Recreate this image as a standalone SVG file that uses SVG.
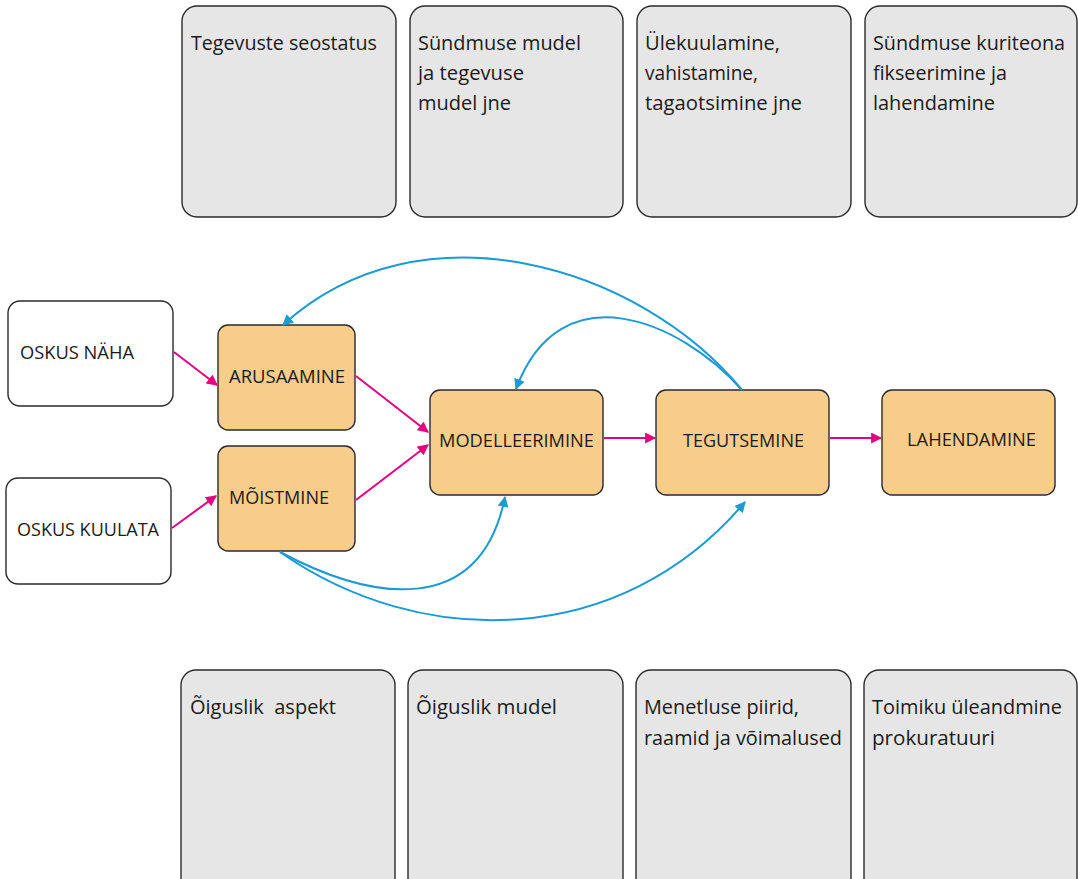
<svg xmlns="http://www.w3.org/2000/svg" width="1078" height="879" viewBox="0 0 1078 879">
<style>
.g{fill:#e6e6e6;stroke:#2a2a2a;stroke-width:1.4}
.w{fill:#ffffff;stroke:#2a2a2a;stroke-width:1.4}
.o{fill:#f8cd8a;stroke:#2a2a2a;stroke-width:1.4}
text{font-family:"Open Sans","Noto Sans",sans-serif;fill:#1a1a1a;white-space:pre}
.t{font-size:19.5px}
.n{font-size:19px}
.p{fill:none;stroke:#e6007e;stroke-width:2}
.b{fill:none;stroke:#1b9ad6;stroke-width:2}
</style>
<defs>
<marker id="ap" viewBox="0 0 10 10" refX="9" refY="5" markerWidth="5.5" markerHeight="5.5" orient="auto" markerUnits="strokeWidth"><path d="M0,0 L10,5 L0,10 z" fill="#e6007e"/></marker>
<marker id="ab" viewBox="0 0 10 10" refX="9" refY="5" markerWidth="5.5" markerHeight="5.5" orient="auto" markerUnits="strokeWidth"><path d="M0,0 L10,5 L0,10 z" fill="#1b9ad6"/></marker>
</defs>
<rect width="1078" height="879" fill="#ffffff"/>
<g id="top1"><rect class="g" x="182" y="6" width="214" height="211" rx="15"/><text class="t" x="191" y="50" textLength="186" lengthAdjust="spacingAndGlyphs">Tegevuste seostatus</text></g>
<g id="top2"><rect class="g" x="410" y="6" width="213" height="211" rx="15"/><text class="t" x="418" y="50" textLength="163" lengthAdjust="spacingAndGlyphs">Sündmuse mudel</text><text class="t" x="418" y="80" textLength="106" lengthAdjust="spacingAndGlyphs">ja tegevuse</text><text class="t" x="418" y="110" textLength="93" lengthAdjust="spacingAndGlyphs">mudel jne</text></g>
<g id="top3"><rect class="g" x="637" y="6" width="214" height="211" rx="15"/><text class="t" x="645" y="50" textLength="135" lengthAdjust="spacingAndGlyphs">Ülekuulamine,</text><text class="t" x="645" y="80" textLength="113" lengthAdjust="spacingAndGlyphs">vahistamine,</text><text class="t" x="645" y="110" textLength="157" lengthAdjust="spacingAndGlyphs">tagaotsimine jne</text></g>
<g id="top4"><rect class="g" x="865" y="6" width="212" height="211" rx="15"/><text class="t" x="873" y="50" textLength="192" lengthAdjust="spacingAndGlyphs">Sündmuse kuriteona</text><text class="t" x="873" y="80" textLength="134" lengthAdjust="spacingAndGlyphs">fikseerimine ja</text><text class="t" x="873" y="110" textLength="122" lengthAdjust="spacingAndGlyphs">lahendamine</text></g>

<g id="oskus-naha"><rect class="w" x="8" y="301" width="165" height="105" rx="12"/><text class="n" x="20" y="359" textLength="114" lengthAdjust="spacingAndGlyphs">OSKUS NÄHA</text></g>
<g id="oskus-kuulata"><rect class="w" x="6" y="478" width="165" height="106" rx="12"/><text class="n" x="17" y="536" textLength="142" lengthAdjust="spacingAndGlyphs">OSKUS KUULATA</text></g>
<g id="arusaamine"><rect class="o" x="218" y="325" width="137" height="105" rx="10"/><text class="n" x="229" y="383" textLength="116" lengthAdjust="spacingAndGlyphs">ARUSAAMINE</text></g>
<g id="moistmine"><rect class="o" x="218" y="446" width="137" height="105" rx="10"/><text class="n" x="229" y="504" textLength="100" lengthAdjust="spacingAndGlyphs">MÕISTMINE</text></g>
<g id="modelleerimine"><rect class="o" x="430" y="390" width="173" height="105" rx="10"/><text class="n" x="439" y="447" textLength="155" lengthAdjust="spacingAndGlyphs">MODELLEERIMINE</text></g>
<g id="tegutsemine"><rect class="o" x="656" y="390" width="173" height="105" rx="10"/><text class="n" x="683" y="447" textLength="121" lengthAdjust="spacingAndGlyphs">TEGUTSEMINE</text></g>
<g id="lahendamine"><rect class="o" x="882" y="390" width="173" height="105" rx="10"/><text class="n" x="907" y="446" textLength="129" lengthAdjust="spacingAndGlyphs">LAHENDAMINE</text></g>

<g id="bot1"><rect class="g" x="181" y="670" width="214" height="230" rx="15"/><text class="t" x="190" y="714" textLength="146" lengthAdjust="spacingAndGlyphs">Õiguslik  aspekt</text></g>
<g id="bot2"><rect class="g" x="408" y="670" width="215" height="230" rx="15"/><text class="t" x="416" y="714" textLength="141" lengthAdjust="spacingAndGlyphs">Õiguslik mudel</text></g>
<g id="bot3"><rect class="g" x="636" y="670" width="215" height="230" rx="15"/><text class="t" x="644" y="714" textLength="155" lengthAdjust="spacingAndGlyphs">Menetluse piirid,</text><text class="t" x="644" y="745" textLength="198" lengthAdjust="spacingAndGlyphs">raamid ja võimalused</text></g>
<g id="bot4"><rect class="g" x="864" y="670" width="213" height="230" rx="15"/><text class="t" x="872" y="714" textLength="190" lengthAdjust="spacingAndGlyphs">Toimiku üleandmine</text><text class="t" x="872" y="745" textLength="123" lengthAdjust="spacingAndGlyphs">prokuratuuri</text></g>

<g id="connectors">
<path class="p" d="M174,352 L217,385" marker-end="url(#ap)"/>
<path class="p" d="M172,528 L216,496" marker-end="url(#ap)"/>
<path class="p" d="M356,376 L428,432" marker-end="url(#ap)"/>
<path class="p" d="M356,500 L428,445" marker-end="url(#ap)"/>
<path class="p" d="M604,438 L655,438" marker-end="url(#ap)"/>
<path class="p" d="M830,438 L881,438" marker-end="url(#ap)"/>
<path class="b" d="M742,390 C640,265 420,200 283,325" marker-end="url(#ab)"/>
<path class="b" d="M742,390 C680,320 560,270 516,389" marker-end="url(#ab)"/>
<path class="b" d="M280,552 C370,600 480,620 505,497" marker-end="url(#ab)"/>
<path class="b" d="M280,552 C420,650 620,650 745,502" marker-end="url(#ab)"/>
</g>
</svg>
